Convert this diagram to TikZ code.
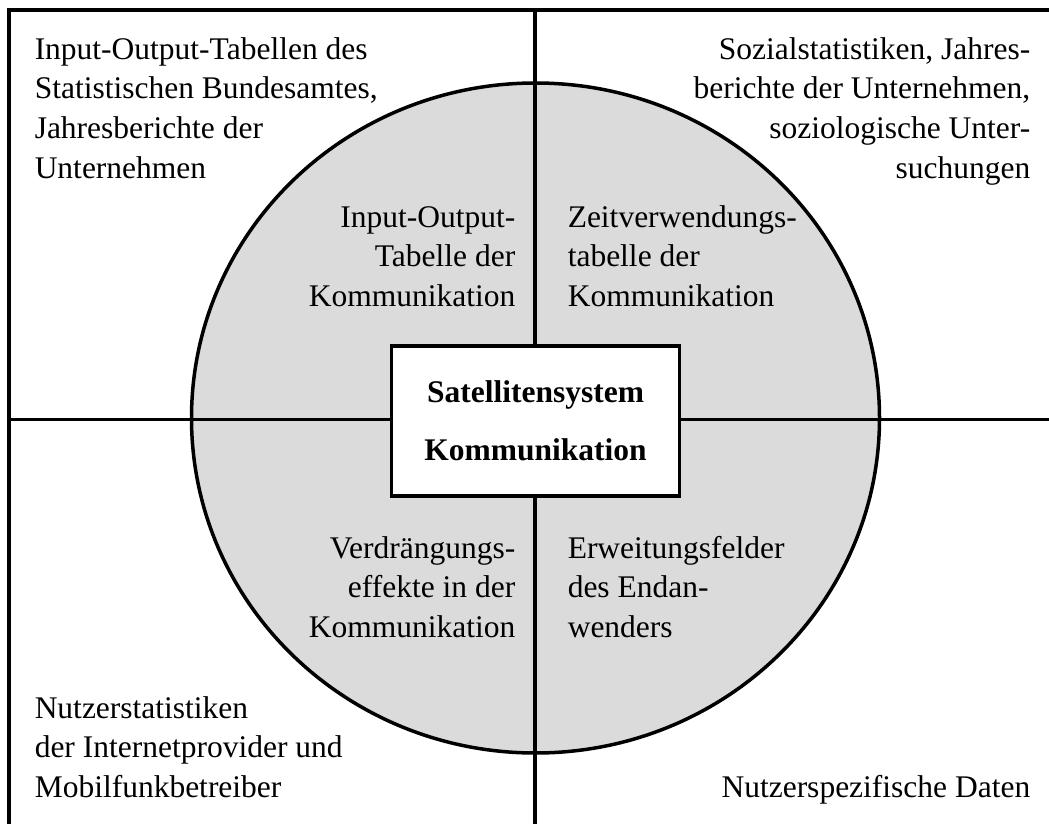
\documentclass[tikz,border=0pt]{standalone}
\usepackage{fontspec}
\setmainfont{Liberation Serif}
\usepackage{xcolor}
\colorlet{mygray}{black!14}
\usepackage{tikz}
\tikzset{
  quadtext/.style={inner sep=0pt, font=\fontsize{31.5}{39.5}\selectfont},
  satbox/.style={draw, fill=white, line width=3.5pt, minimum width=288pt, minimum height=150pt,
    align=center, font=\fontsize{31.5}{58}\selectfont\bfseries}
}

\begin{document}
\begin{tikzpicture}[x=1pt, y=-1pt, line width=3.5pt]
      \useasboundingbox (0,0) rectangle (1049,824);
      \coordinate (ul) at (9,10);
      \coordinate (ur) at (1052,10);
      \coordinate (ll) at (9,828);
      \coordinate (ml) at (9,419.5);
      \coordinate (mr) at (1052,419.5);
      \coordinate (mt) at (535,10);
      \coordinate (mb) at (535,828);
      \coordinate (c) at (535.5,418);
      % circle and cross
      \fill[mygray] (c) ellipse [x radius=344, y radius=335];
      \draw (c) ellipse [x radius=344, y radius=335];
      \draw (ll) -- (ul) -- (ur);
      \draw (ml) -- (mr) (mt) -- (mb);
      \node[satbox] (sat) at (535.5,421) {Satellitensystem\\Kommunikation};

      % outer quadrants (anchored at the baseline of the last line)
      \node[quadtext, anchor=base west, align=left] (srcio) at (33,178)
        {Input-Output-Tabellen des\\Statistischen Bundesamtes,\\Jahresberichte der\\Unternehmen};
      \node[quadtext, anchor=base east, align=right] (srcsoz) at (1032,178)
        {Sozialstatistiken, Jahres-\\berichte der Unternehmen,\\soziologische Unter-\\suchungen};
      \node[quadtext, anchor=base west, align=left] (srcnutz) at (33,797)
        {Nutzerstatistiken\\der Internetprovider und\\Mobilfunkbetreiber};
      \node[quadtext, anchor=base east, align=right] (srcdat) at (1032,797)
        {Nutzerspezifische Daten};

      % inner quadrants
      \node[quadtext, anchor=base east, align=right] (iotab) at (517,306)
        {Input-Output-\\Tabelle der\\Kommunikation};
      \node[quadtext, anchor=base west, align=left] (zeittab) at (566,306)
        {Zeitverwendungs-\\tabelle der\\Kommunikation};
      \node[quadtext, anchor=base east, align=right] (verdr) at (517,637)
        {Verdrängungs-\\effekte in der\\Kommunikation};
      \node[quadtext, anchor=base west, align=left] (erw) at (566,637)
        {Erweitungsfelder\\des Endan-\\wenders};
\end{tikzpicture}
\end{document}
